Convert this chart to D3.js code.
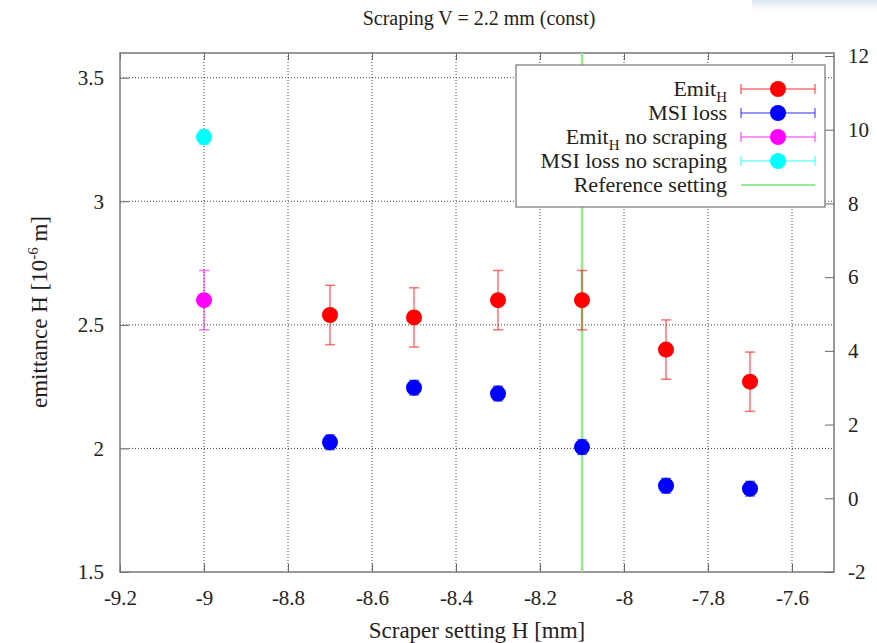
<!DOCTYPE html>
<html lang="en">
<head>
  <meta charset="utf-8">
  <title>Scraping V</title>
  <script src="https://d3js.org/d3.v7.min.js"></script>
  <style>
  body { margin: 0; background: #fff; }
  text { font-family: "Liberation Serif", "DejaVu Serif", serif; fill: #222; }
  .grid line { stroke: #444; stroke-dasharray: 1,2; stroke-width: 1; }
  </style>
</head>
<body>
<script>
var width = 877;
var height = 643;

// data
var emitX = [-8.7, -8.5, -8.3, -8.1, -7.9, -7.7];
var emitY = [2.54, 2.53, 2.60, 2.60, 2.40, 2.27];
var emitErr = [0.12, 0.12, 0.12, 0.12, 0.12, 0.12];

var lossX = [-8.7, -8.5, -8.3, -8.1, -7.9, -7.7];
var lossY = [1.52, 3.0, 2.84, 1.39, 0.34, 0.26];
var lossErr = [0.2, 0.2, 0.2, 0.2, 0.2, 0.2];

var emitNoX = [-9.0];
var emitNoY = [2.60];
var emitNoErr = [0.12];

var lossNoX = [-9.0];
var lossNoY = [9.8];
var lossNoErr = [0.2];

var refSetting = -8.1;

var xTicks = [-9.2, -9, -8.8, -8.6, -8.4, -8.2, -8, -7.8, -7.6];
var yTicks = [1.5, 2, 2.5, 3, 3.5];
var y2Ticks = [-2, 0, 2, 4, 6, 8, 10, 12];

var pLeft = 120, pRight = 834, pTop = 53, pBottom = 572;

var svg = d3.select("body").append("svg")
  .attr("width", width)
  .attr("height", height);

// pale band top right
var grad = svg.append("defs").append("linearGradient")
  .attr("id", "band").attr("x1", 0).attr("y1", 0).attr("x2", 0).attr("y2", 1);
grad.append("stop").attr("offset", "0%").attr("stop-color", "#dce4f4");
grad.append("stop").attr("offset", "100%").attr("stop-color", "#ffffff");
svg.append("rect").attr("x", 752).attr("y", 0).attr("width", 125).attr("height", 10)
  .attr("fill", "url(#band)");

var x = d3.scaleLinear().domain([-9.2, -7.5]).range([pLeft, pRight]);
var y = d3.scaleLinear().domain([1.5, 3.6]).range([pBottom, pTop]);
var y2 = d3.scaleLinear().domain([-2, 12]).range([pBottom, pTop + 3]);

var fmt = function(d){ return String(d); };

// grid
var grid = svg.append("g").attr("class", "grid");
grid.selectAll(".gx").data(xTicks.slice(1)).enter().append("line")
  .attr("x1", function(d){ return x(d); }).attr("x2", function(d){ return x(d); })
  .attr("y1", pTop).attr("y2", pBottom);
grid.selectAll(".gy").data(yTicks.slice(1)).enter().append("line")
  .attr("x1", pLeft).attr("x2", pRight)
  .attr("y1", function(d){ return y(d); }).attr("y2", function(d){ return y(d); });

// axes (ticks inward)
var axisStyle = function(g) {
  g.attr("font-family", null);
  g.select(".domain").remove();
  g.selectAll(".tick line").attr("stroke", "#666");
  g.selectAll(".tick text").attr("font-size", 21).style("fill", "#222")
    .style("font-family", "'Liberation Serif', serif");
};

svg.append("g").attr("transform", "translate(0," + pBottom + ")")
  .call(d3.axisBottom(x).tickValues(xTicks).tickFormat(fmt).tickSizeInner(-8).tickPadding(18))
  .call(axisStyle);
svg.append("g").attr("transform", "translate(0," + pTop + ")")
  .call(d3.axisTop(x).tickValues(xTicks).tickFormat("").tickSizeInner(-7))
  .call(axisStyle);
svg.append("g").attr("transform", "translate(" + pLeft + ",0)")
  .call(d3.axisLeft(y).tickValues(yTicks).tickFormat(fmt).tickSizeInner(-9).tickPadding(16))
  .call(axisStyle);
svg.append("g").attr("transform", "translate(" + pRight + ",0)")
  .call(d3.axisRight(y2).tickValues(y2Ticks).tickFormat(fmt).tickSizeInner(-9).tickPadding(14))
  .call(axisStyle);

svg.append("rect").attr("x", pLeft).attr("y", pTop)
  .attr("width", pRight - pLeft).attr("height", pBottom - pTop)
  .attr("fill", "none").attr("stroke", "#777").attr("stroke-width", 1.5);

// reference line
svg.append("line")
  .attr("x1", x(refSetting)).attr("x2", x(refSetting))
  .attr("y1", pTop).attr("y2", pBottom)
  .attr("stroke", "#90ee90").attr("stroke-width", 2.5);

function series(xs, ys, errs, scale, color) {
  var g = svg.append("g");
  var pts = xs.map(function(d, i){ return {x: d, y: ys[i], e: errs[i]}; });
  var eb = g.selectAll(".eb").data(pts).enter().append("g")
    .attr("stroke", color).attr("stroke-opacity", 0.55).attr("stroke-width", 1.5);
  eb.append("line")
    .attr("x1", function(d){ return x(d.x); }).attr("x2", function(d){ return x(d.x); })
    .attr("y1", function(d){ return scale(d.y - d.e); }).attr("y2", function(d){ return scale(d.y + d.e); });
  eb.append("line")
    .attr("x1", function(d){ return x(d.x) - 5; }).attr("x2", function(d){ return x(d.x) + 5; })
    .attr("y1", function(d){ return scale(d.y - d.e); }).attr("y2", function(d){ return scale(d.y - d.e); });
  eb.append("line")
    .attr("x1", function(d){ return x(d.x) - 5; }).attr("x2", function(d){ return x(d.x) + 5; })
    .attr("y1", function(d){ return scale(d.y + d.e); }).attr("y2", function(d){ return scale(d.y + d.e); });
  g.selectAll("circle").data(pts).enter().append("circle")
    .attr("cx", function(d){ return x(d.x); })
    .attr("cy", function(d){ return scale(d.y); })
    .attr("r", 8).attr("fill", color);
}

series(emitX, emitY, emitErr, y, "#ff0000");
series(lossX, lossY, lossErr, y2, "#0000ff");
series(emitNoX, emitNoY, emitNoErr, y, "#ff00ff");
series(lossNoX, lossNoY, lossNoErr, y2, "#00ffff");

// legend
var leg = svg.append("g");
leg.append("rect").attr("x", 516).attr("y", 65).attr("width", 309).attr("height", 142)
  .attr("fill", "#fff").attr("stroke", "#777").attr("stroke-width", 1.2);

var legItems = [
  {name: "Emit", sub: "H", rest: "", color: "#ff0000", mark: true},
  {name: "MSI loss", sub: "", rest: "", color: "#0000ff", mark: true},
  {name: "Emit", sub: "H", rest: " no scraping", color: "#ff00ff", mark: true},
  {name: "MSI loss no scraping", sub: "", rest: "", color: "#00ffff", mark: true},
  {name: "Reference setting", sub: "", rest: "", color: "#90ee90", mark: false}
];

legItems.forEach(function(d, i) {
  var yy = 89 + i * 24;
  var t = leg.append("text").attr("x", 727).attr("y", yy + 7)
    .attr("text-anchor", "end").attr("font-size", 22);
  t.append("tspan").text(d.name);
  if (d.sub) t.append("tspan").attr("font-size", 15).attr("dy", 6).text(d.sub);
  if (d.rest) t.append("tspan").attr("dy", -6).text(d.rest);
  if (d.mark) {
    var g = leg.append("g").attr("stroke", d.color).attr("stroke-opacity", 0.55).attr("stroke-width", 1.5);
    g.append("line").attr("x1", 741).attr("x2", 815).attr("y1", yy).attr("y2", yy);
    g.append("line").attr("x1", 741).attr("x2", 741).attr("y1", yy - 5).attr("y2", yy + 5);
    g.append("line").attr("x1", 815).attr("x2", 815).attr("y1", yy - 5).attr("y2", yy + 5);
    leg.append("circle").attr("cx", 778).attr("cy", yy).attr("r", 8).attr("fill", d.color);
  } else {
    leg.append("line").attr("x1", 741).attr("x2", 815).attr("y1", yy).attr("y2", yy)
      .attr("stroke", d.color).attr("stroke-width", 2);
  }
});

// titles
svg.append("text").attr("x", 479).attr("y", 25).attr("text-anchor", "middle")
  .attr("font-size", 20).text("Scraping V = 2.2 mm (const)");

svg.append("text").attr("x", 477).attr("y", 638).attr("text-anchor", "middle")
  .attr("font-size", 23).text("Scraper setting H [mm]");

var yl = svg.append("text").attr("transform", "translate(47,312) rotate(-90)")
  .attr("text-anchor", "middle").attr("font-size", 23);
yl.append("tspan").text("emittance H [10");
yl.append("tspan").attr("font-size", 15).attr("dy", -9).text("-6");
yl.append("tspan").attr("dy", 9).text(" m]");
</script>
</body>
</html>
